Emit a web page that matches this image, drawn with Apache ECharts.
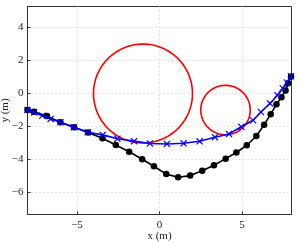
<!DOCTYPE html>
<html>
<head>
<meta charset="utf-8">
<script src="https://cdn.jsdelivr.net/npm/echarts@6/dist/echarts.min.js"></script>
<style>html,body{margin:0;padding:0;background:#fff}#c{width:299px;height:243px}</style>
</head>
<body>
<div id="c"></div>
<script>
// Data
const blackX = [-8, -7.61, -6.82, -6.01, -5.18, -4.33, -3.46, -2.65, -1.84, -1.05, -0.34, 0.41, 1.13, 1.86, 2.59, 3.30, 4.01, 4.66, 5.29, 5.87, 6.34, 6.74, 7.09, 7.39, 7.64, 7.80, 7.97];
const blackY = [-1.0, -1.11, -1.37, -1.74, -2.04, -2.37, -2.71, -3.12, -3.53, -3.99, -4.41, -4.89, -5.08, -4.98, -4.68, -4.35, -3.95, -3.58, -3.14, -2.58, -1.90, -1.25, -0.65, -0.22, 0.18, 0.63, 1.03];
const blueX = [-8, -7.6, -7.1, -6.6, -6.0, -5.2, -4.35, -3.44, -2.55, -1.54, -0.58, 0.45, 1.46, 2.43, 3.36, 4.21, 4.96, 5.67, 6.15, 6.7, 7.14, 7.47, 7.72, 7.97];
const blueY = [-1.0, -1.15, -1.35, -1.55, -1.75, -2.05, -2.35, -2.51, -2.74, -2.89, -3.03, -3.06, -3.02, -2.90, -2.65, -2.45, -2.02, -1.62, -1.12, -0.6, -0.1, 0.32, 0.67, 1.05];
const circleCX = [-1, 4];
const circleCY = [0, -1];
const circleR = [3, 1.5];
const xTicks = [-5, 0, 5];
const yTicks = [-6, -4, -2, 0, 2, 4];

function circlePts(cx, cy, r) {
  const pts = [];
  const n = 180;
  for (let i = 0; i <= n; i++) {
    const t = 2 * Math.PI * i / n;
    pts.push([cx + r * Math.cos(t), cy + r * Math.sin(t)]);
  }
  return pts;
}
const fmt = v => (v < 0 ? '\u2212' + Math.abs(v) : String(v));
const font = 'Liberation Serif';
const crossPath = 'path://M0,1.2L1.2,0L5,3.8L8.8,0L10,1.2L6.2,5L10,8.8L8.8,10L5,6.2L1.2,10L0,8.8L3.8,5Z';

const series = [];
circleCX.forEach((cx, i) => {
  series.push({
    type: 'line', data: circlePts(cx, circleCY[i], circleR[i]), showSymbol: false,
    lineStyle: { color: '#ff0000', width: 1.6 }, silent: true, animation: false, z: 2
  });
});
series.push({
  type: 'line', data: blackX.map((x, i) => [x, blackY[i]]), symbol: 'circle', symbolSize: 6.5,
  lineStyle: { color: '#000', width: 1.6 }, itemStyle: { color: '#000' }, animation: false, z: 3
});
series.push({
  type: 'line', data: blueX.map((x, i) => [x, blueY[i]]), symbol: crossPath, symbolSize: 7,
  lineStyle: { color: '#0000ff', width: 1.6 }, itemStyle: { color: '#0000ff' }, animation: false, z: 4
});

const chart = echarts.init(document.getElementById('c'), null, { renderer: 'canvas' });
chart.setOption({
  backgroundColor: '#fff',
  animation: false,
  grid: { left: 27.5, right: 7.5, top: 6.5, bottom: 28.5, containLabel: false, outerBoundsMode: 'none',
          show: true, borderColor: '#333', borderWidth: 1, backgroundColor: 'transparent' },
  xAxis: {
    type: 'value', min: -8, max: 8,
    name: 'x (m)', nameLocation: 'middle', nameGap: 16, nameMoveOverlap: false,
    nameTextStyle: { fontFamily: font, fontSize: 11, color: '#222' },
    axisLine: { show: true, onZero: false, lineStyle: { color: '#333', width: 1 } },
    axisTick: { show: true, inside: true, length: 3, customValues: xTicks, lineStyle: { color: '#333' } },
    axisLabel: { customValues: xTicks, formatter: fmt, fontFamily: font, fontSize: 11, color: '#222', margin: 5 },
    splitLine: { show: true, lineStyle: { color: '#c8c8c8', type: [1, 3], width: 1 } }
  },
  yAxis: {
    type: 'value', min: -7.34, max: 5.28,
    name: 'y (m)', nameLocation: 'middle', nameGap: 17, nameMoveOverlap: false,
    nameTextStyle: { fontFamily: font, fontSize: 11, color: '#222' },
    axisLine: { show: true, onZero: false, lineStyle: { color: '#333', width: 1 } },
    axisTick: { show: true, inside: true, length: 3, customValues: yTicks, lineStyle: { color: '#333' } },
    axisLabel: { customValues: yTicks, formatter: fmt, fontFamily: font, fontSize: 11, color: '#222', margin: 4 },
    splitLine: { show: true, lineStyle: { color: '#c8c8c8', type: [1, 3], width: 1 } }
  },
  series: series
});
</script>
</body>
</html>
